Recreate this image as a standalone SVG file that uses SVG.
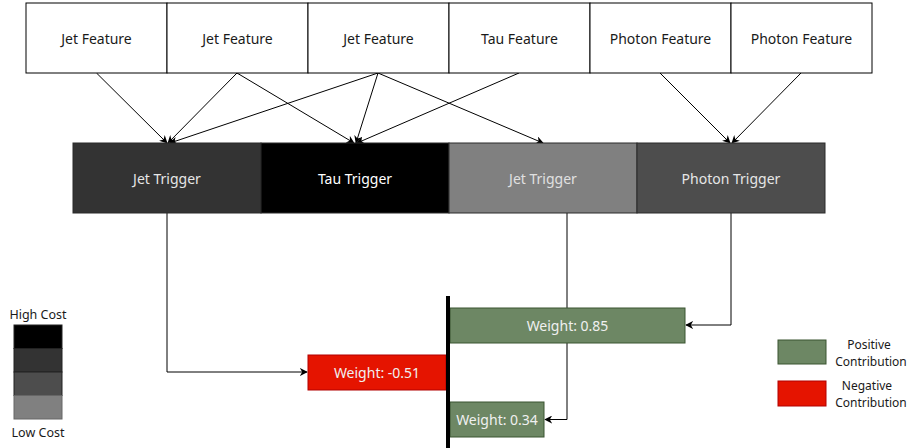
<svg xmlns="http://www.w3.org/2000/svg" width="912" height="448" viewBox="0 0 912 448">
<style>
text{font-family:"Noto Sans","Open Sans","DejaVu Sans",sans-serif;text-anchor:middle;dominant-baseline:central}
.f{font-size:14px;fill:#1a1a1a}
.feat{fill:#ffffff;stroke:#000;stroke-width:1}
.trig{stroke:#2b2b2b;stroke-width:1}
.c{fill:none;stroke:#000;stroke-width:1}
.w{font-size:14px;fill:#f0f0f0}
.l{font-size:12.5px;fill:#1a1a1a}
.g{fill:#6d8764;stroke:#3a5431}
.r{fill:#e51400;stroke:#b20000}
</style>
<defs>
<marker id="a" viewBox="0 0 10 10" refX="9" refY="5" markerWidth="8" markerHeight="8" markerUnits="userSpaceOnUse" orient="auto">
<path d="M0,0 L10,5 L0,10 L3,5 z" fill="#000"/>
</marker>
</defs>
<g id="connectors">
<line class="c" x1="96.5" y1="73" x2="167" y2="143" marker-end="url(#a)"/>
<line class="c" x1="237" y1="73" x2="168" y2="143" marker-end="url(#a)"/>
<line class="c" x1="237" y1="73" x2="354" y2="143" marker-end="url(#a)"/>
<line class="c" x1="378" y1="73" x2="170" y2="143" marker-end="url(#a)"/>
<line class="c" x1="378" y1="73" x2="356" y2="143" marker-end="url(#a)"/>
<line class="c" x1="378" y1="73" x2="543" y2="143" marker-end="url(#a)"/>
<line class="c" x1="519" y1="73" x2="357" y2="143" marker-end="url(#a)"/>
<line class="c" x1="660" y1="73" x2="730" y2="143" marker-end="url(#a)"/>
<line class="c" x1="801" y1="73" x2="732" y2="143" marker-end="url(#a)"/>
<polyline class="c" points="167,213 167,372 307,372" marker-end="url(#a)"/>
<polyline class="c" points="567,213 567,419.5 545,419.5" marker-end="url(#a)"/>
<polyline class="c" points="731,213 731,325 686,325" marker-end="url(#a)"/>
</g>
<g id="feature-1"><rect class="feat" x="26" y="3" width="141" height="70"/><text class="f" x="96.5" y="38">Jet Feature</text></g>
<g id="feature-2"><rect class="feat" x="167" y="3" width="141" height="70"/><text class="f" x="237.5" y="38">Jet Feature</text></g>
<g id="feature-3"><rect class="feat" x="308" y="3" width="141" height="70"/><text class="f" x="378.5" y="38">Jet Feature</text></g>
<g id="feature-4"><rect class="feat" x="449" y="3" width="141" height="70"/><text class="f" x="519.5" y="38">Tau Feature</text></g>
<g id="feature-5"><rect class="feat" x="590" y="3" width="141" height="70"/><text class="f" x="660.5" y="38">Photon Feature</text></g>
<g id="feature-6"><rect class="feat" x="731" y="3" width="141" height="70"/><text class="f" x="801.5" y="38">Photon Feature</text></g>
<g id="trigger-1"><rect class="trig" x="73" y="143" width="188" height="70" fill="#333333"/><text class="f" x="167" y="178" style="fill:#e6e6e6">Jet Trigger</text></g>
<g id="trigger-2"><rect class="trig" x="261" y="143" width="188" height="70" fill="#000000"/><text class="f" x="355" y="178" style="fill:#ffffff">Tau Trigger</text></g>
<g id="trigger-3"><rect class="trig" x="449" y="143" width="188" height="70" fill="#808080"/><text class="f" x="543" y="178" style="fill:#e0e0e0">Jet Trigger</text></g>
<g id="trigger-4"><rect class="trig" x="637" y="143" width="188" height="70" fill="#4d4d4d"/><text class="f" x="731" y="178" style="fill:#e6e6e6">Photon Trigger</text></g>
<g id="weight-085"><rect class="g" x="450" y="308" width="235" height="35"/><text class="w" x="567.5" y="325.5">Weight: 0.85</text></g>
<g id="weight-051"><rect class="r" x="308" y="355" width="138" height="35"/><text class="w" x="377" y="372.5">Weight: -0.51</text></g>
<g id="weight-034"><rect class="g" x="450" y="402" width="94" height="35"/><text class="w" x="497" y="419.5">Weight: 0.34</text></g>
<g id="axis"><rect x="446" y="296" width="4" height="152" fill="#000"/></g>
<g id="legend-cost">
<text class="l" x="38" y="314">High Cost</text>
<rect x="14" y="325" width="48" height="23.5" fill="#000000" stroke="#222"/>
<rect x="14" y="348.5" width="48" height="23.5" fill="#333333" stroke="#222"/>
<rect x="14" y="372" width="48" height="23.5" fill="#4d4d4d" stroke="#222"/>
<rect x="14" y="395.5" width="48" height="23.5" fill="#808080" stroke="#666"/>
<text class="l" x="38" y="432">Low Cost</text>
</g>
<g id="legend-contribution">
<rect class="g" x="778" y="340" width="48" height="24"/>
<text class="l" style="font-size:12px"><tspan x="869" y="344">Positive</tspan><tspan x="871" y="361">Contribution</tspan></text>
<rect class="r" x="778" y="381" width="48" height="25"/>
<text class="l" style="font-size:12px"><tspan x="867" y="385">Negative</tspan><tspan x="871" y="402">Contribution</tspan></text>
</g>
</svg>
